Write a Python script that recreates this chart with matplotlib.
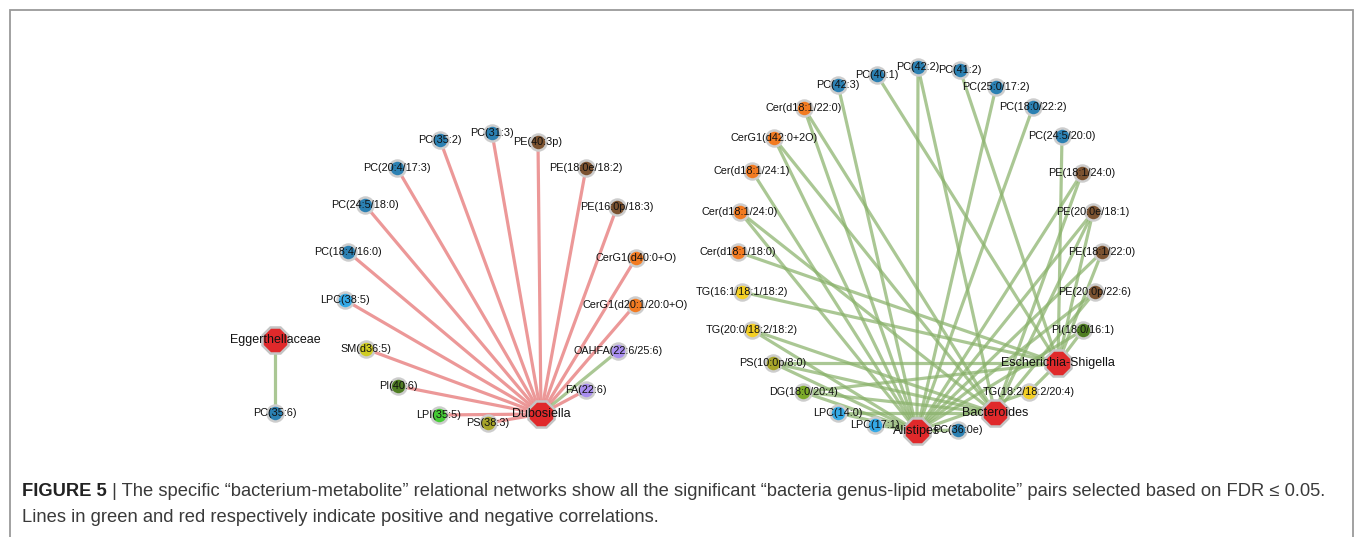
import matplotlib
matplotlib.use('Agg')
import matplotlib.pyplot as plt
from matplotlib import font_manager

# ---------------- data ----------------
bacteria = ['Dubosiella', 'Eggerthellaceae', 'Alistipes', 'Bacteroides', 'Escherichia-Shigella']

metabolites = ['PC(35:2)', 'PC(31:3)', 'PE(40:3p)', 'PE(18:0e/18:2)', 'PC(20:4/17:3)',
               'PC(24:5/18:0)', 'PE(16:0p/18:3)', 'PC(18:4/16:0)', 'CerG1(d40:0+O)',
               'LPC(38:5)', 'CerG1(d20:1/20:0+O)', 'SM(d36:5)', 'OAHFA(22:6/25:6)',
               'PI(40:6)', 'FA(22:6)', 'LPI(35:5)', 'PS(38:3)', 'PC(35:6)',
               'PC(42:3)', 'PC(40:1)', 'PC(42:2)', 'PC(41:2)', 'PC(25:0/17:2)', 'PC(18:0/22:2)',
               'PC(24:5/20:0)', 'Cer(d18:1/22:0)', 'CerG1(d42:0+2O)', 'Cer(d18:1/24:1)',
               'Cer(d18:1/24:0)', 'Cer(d18:1/18:0)', 'TG(16:1/18:1/18:2)', 'TG(20:0/18:2/18:2)',
               'PS(10:0p/8:0)', 'DG(18:0/20:4)', 'LPC(14:0)', 'LPC(17:1)', 'PC(36:0e)',
               'TG(18:2/18:2/20:4)', 'PI(18:0/16:1)', 'PE(20:0p/22:6)', 'PE(18:1/22:0)',
               'PE(20:0e/18:1)', 'PE(18:1/24:0)']

metab_class = ['PC', 'PC', 'PE', 'PE', 'PC',
               'PC', 'PE', 'PC', 'CerG1',
               'LPC', 'CerG1', 'SM', 'OAHFA',
               'PI', 'FA', 'LPI', 'PS', 'PC',
               'PC', 'PC', 'PC', 'PC', 'PC', 'PC',
               'PC', 'Cer', 'CerG1', 'Cer',
               'Cer', 'Cer', 'TG', 'TG',
               'PS', 'DG', 'LPC', 'LPC', 'PC',
               'TG', 'PI', 'PE', 'PE',
               'PE', 'PE']

# edges: (bacterium, metabolite, sign)  +1 positive, -1 negative
edge_bacterium = (['Dubosiella'] * 17 + ['Eggerthellaceae'])
edge_metabolite = (metabolites[:17] + ['PC(35:6)'])
edge_sign = ([-1] * 12 + [1] + [-1] * 4 + [1])

right_links = [
    ('PC(42:3)', 'A'), ('PC(40:1)', 'E'), ('PC(42:2)', 'AB'), ('PC(41:2)', 'E'),
    ('PC(25:0/17:2)', 'A'), ('PC(18:0/22:2)', 'A'), ('PC(24:5/20:0)', 'E'),
    ('Cer(d18:1/22:0)', 'AB'), ('CerG1(d42:0+2O)', 'AB'), ('Cer(d18:1/24:1)', 'A'),
    ('Cer(d18:1/24:0)', 'AB'), ('Cer(d18:1/18:0)', 'E'), ('TG(16:1/18:1/18:2)', 'E'),
    ('TG(20:0/18:2/18:2)', 'AB'), ('PS(10:0p/8:0)', 'ABE'), ('DG(18:0/20:4)', 'ABE'),
    ('LPC(14:0)', 'AB'), ('LPC(17:1)', 'A'), ('PC(36:0e)', 'A'),
    ('TG(18:2/18:2/20:4)', 'AE'), ('PI(18:0/16:1)', 'AE'), ('PE(20:0p/22:6)', 'AB'),
    ('PE(18:1/22:0)', 'AE'), ('PE(20:0e/18:1)', 'ABE'), ('PE(18:1/24:0)', 'AB'),
]
code_to_bact = {'A': 'Alistipes', 'B': 'Bacteroides', 'E': 'Escherichia-Shigella'}
for m, codes in right_links:
    for c in codes:
        edge_bacterium.append(code_to_bact[c])
        edge_metabolite.append(m)
        edge_sign.append(1)

caption_bold = 'FIGURE 5'
caption_line1 = (' | The specific \u201cbacterium-metabolite\u201d relational networks show all the '
                 'significant \u201cbacteria genus-lipid metabolite\u201d pairs selected based on FDR \u2264 0.05.')
caption_line2 = 'Lines in green and red respectively indicate positive and negative correlations.'

# ---------------- layout (pixel coordinates of nodes) ----------------
layout = {
    'Dubosiella': (541, 414), 'Eggerthellaceae': (275, 340),
    'Alistipes': (917, 431), 'Bacteroides': (995, 413), 'Escherichia-Shigella': (1058, 363),
    'PC(35:2)': (440, 140), 'PC(31:3)': (492, 133), 'PE(40:3p)': (538, 142),
    'PE(18:0e/18:2)': (586, 168), 'PC(20:4/17:3)': (397, 168), 'PC(24:5/18:0)': (365, 205),
    'PE(16:0p/18:3)': (617, 207), 'PC(18:4/16:0)': (348, 252), 'CerG1(d40:0+O)': (636, 258),
    'LPC(38:5)': (345, 300), 'CerG1(d20:1/20:0+O)': (635, 305), 'SM(d36:5)': (366, 349),
    'OAHFA(22:6/25:6)': (618, 351), 'PI(40:6)': (398, 386), 'FA(22:6)': (586, 390),
    'LPI(35:5)': (439, 415), 'PS(38:3)': (488, 423), 'PC(35:6)': (275, 413),
    'PC(42:3)': (838, 85), 'PC(40:1)': (877, 75), 'PC(42:2)': (918, 67), 'PC(41:2)': (960, 70),
    'PC(25:0/17:2)': (996, 87), 'PC(18:0/22:2)': (1033, 107), 'PC(24:5/20:0)': (1062, 136),
    'Cer(d18:1/22:0)': (804, 108), 'CerG1(d42:0+2O)': (774, 138), 'Cer(d18:1/24:1)': (752, 171),
    'Cer(d18:1/24:0)': (740, 212), 'Cer(d18:1/18:0)': (738, 252),
    'TG(16:1/18:1/18:2)': (742, 292), 'TG(20:0/18:2/18:2)': (752, 330),
    'PS(10:0p/8:0)': (773, 363), 'DG(18:0/20:4)': (803, 392), 'LPC(14:0)': (838, 413),
    'LPC(17:1)': (875, 425), 'PC(36:0e)': (958, 430), 'TG(18:2/18:2/20:4)': (1029, 392),
    'PI(18:0/16:1)': (1083, 330), 'PE(20:0p/22:6)': (1095, 292), 'PE(18:1/22:0)': (1102, 252),
    'PE(20:0e/18:1)': (1093, 212), 'PE(18:1/24:0)': (1082, 173),
}

class_color = {
    'PC': '#2b80b2', 'LPC': '#34a9e6', 'PE': '#7b5230', 'Cer': '#f27b22', 'CerG1': '#f27b22',
    'TG': '#f4cf26', 'SM': '#cfcc22', 'PS': '#a8a52a', 'PI': '#4f7e22', 'LPI': '#45cb35',
    'OAHFA': '#a98ef0', 'FA': '#a98ef0', 'DG': '#7caa2a',
}

installed = {f.name for f in font_manager.fontManager.ttflist}
cap_family = ['Liberation Sans Narrow'] if 'Liberation Sans Narrow' in installed else ['Liberation Sans']
cap_family = cap_family + ['DejaVu Sans']

# ---------------- drawing ----------------
W, H = 1355, 537
fig = plt.figure(figsize=(W / 100, H / 100), dpi=100)
ax = fig.add_axes([0, 0, 1, 1])
ax.set_xlim(0, W)
ax.set_ylim(H, 0)
ax.axis('off')

# frame
ax.plot([10, 10, 1353, 1353], [H + 5, 9.5, 9.5, H + 5], color='#9a9a9a', lw=1.3,
        solid_joinstyle='miter', clip_on=False)

# edges
for b, m, s in zip(edge_bacterium, edge_metabolite, edge_sign):
    (x0, y0), (x1, y1) = layout[b], layout[m]
    if s > 0:
        ax.plot([x0, x1], [y0, y1], color='#8ab26b', lw=2.3, alpha=0.72, zorder=1,
                solid_capstyle='butt')
    else:
        ax.plot([x0, x1], [y0, y1], color='#ea8d8d', lw=2.3, alpha=0.9, zorder=1,
                solid_capstyle='butt')

# metabolite nodes + labels
for m, c in zip(metabolites, metab_class):
    x, y = layout[m]
    ax.plot(x, y, marker='o', markersize=11.5, markerfacecolor=class_color[c],
            markeredgecolor='#cdcdcd', markeredgewidth=1.8, zorder=3)
    ax.text(x, y, m, ha='center', va='center', fontsize=7.8, family='Liberation Sans',
            color='#111111', zorder=5)

# bacteria nodes + labels
for b in bacteria:
    x, y = layout[b]
    ax.plot(x, y, marker='8', markersize=20.5, markerfacecolor='#e0292b',
            markeredgecolor='#c4c4c4', markeredgewidth=1.8, zorder=4)
    ax.text(x, y, b, ha='center', va='center', fontsize=9.0, family='Liberation Sans',
            color='#111111', zorder=6)

# caption, fitted to width
fig.canvas.draw()
renderer = fig.canvas.get_renderer()
fs = 10.0
tb = ax.text(22, 492, caption_bold, fontsize=fs, fontweight='bold', family=cap_family,
             ha='left', va='center', color='#222222')
bb = tb.get_window_extent(renderer)
t1 = ax.text(22 + bb.width, 492, caption_line1, fontsize=fs, family=cap_family,
             ha='left', va='center', color='#3a3a3a')
b1 = t1.get_window_extent(renderer)
total = bb.width + b1.width
scale = (1333 - 22) / total
fs2 = fs * scale
tb.set_fontsize(fs2)
bb = tb.get_window_extent(renderer)
t1.set_fontsize(fs2)
t1.set_position((22 + bb.width, 492))
ax.text(22, 518, caption_line2, fontsize=fs2, family=cap_family,
        ha='left', va='center', color='#3a3a3a')

fig.savefig('out.png', dpi=100)
